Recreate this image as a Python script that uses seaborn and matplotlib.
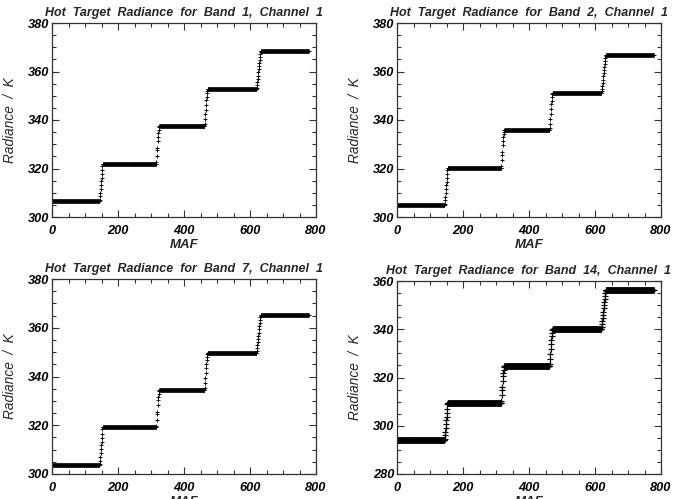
import numpy as np
import pandas as pd
import matplotlib
matplotlib.use("Agg")
import matplotlib.pyplot as plt
import seaborn as sns
from matplotlib.ticker import MultipleLocator

# ---- data ----
bands = [1, 2, 7, 14]
levels_band1 = [306.5, 322.0, 337.5, 352.6, 368.3]
levels_band2 = [304.8, 320.3, 335.7, 351.0, 366.7]
levels_band7 = [303.5, 319.1, 334.5, 349.7, 365.3]
levels_band14 = [294.0, 309.6, 324.7, 340.2, 356.1]
plateau_start = [0, 154, 325, 472, 633]
plateau_end = [143, 315, 462, 619, 778]
# fraction of the step reached at each MAF during the four transitions
ramp_frac_1 = [0.04, 0.13, 0.23, 0.33, 0.43, 0.53, 0.63, 0.73, 0.84, 0.95]
ramp_frac_2 = [0.05, 0.2, 0.35, 0.42, 0.6, 0.72, 0.82, 0.9, 0.97]
ramp_frac_3 = [0.06, 0.18, 0.32, 0.45, 0.58, 0.7, 0.8, 0.9, 0.97]
ramp_frac_4 = [0.05, 0.12, 0.2, 0.28, 0.36, 0.45, 0.53, 0.62, 0.7, 0.78, 0.86, 0.93, 0.98]
y_limits = {1: (300, 380), 2: (300, 380), 7: (300, 380), 14: (280, 360)}

all_levels = {1: levels_band1, 2: levels_band2, 7: levels_band7, 14: levels_band14}
ramps = [ramp_frac_1, ramp_frac_2, ramp_frac_3, ramp_frac_4]


def build_series(levels):
    maf, rad = [], []
    for i, lev in enumerate(levels):
        xs = np.arange(plateau_start[i], plateau_end[i] + 1)
        maf.extend(xs)
        rad.extend([lev] * len(xs))
        if i < len(levels) - 1:
            fr = ramps[i]
            xs_r = np.arange(plateau_end[i] + 1, plateau_end[i] + 1 + len(fr))
            maf.extend(xs_r)
            rad.extend([lev + f * (levels[i + 1] - lev) for f in fr])
    return pd.DataFrame({"MAF": maf, "Radiance": rad})


sns.set_theme(style="ticks")
plt.rcParams["font.family"] = ["Liberation Sans", "DejaVu Sans"]
plt.rcParams["font.style"] = "italic"

fig = plt.figure(figsize=(6.83, 4.99), dpi=100)
W, H = 683, 499
positions = [(52, 23, 316, 217), (397, 23, 661, 217),
             (52, 279, 316, 474), (397, 281, 661, 474)]

for band, (l, t, r, b) in zip(bands, positions):
    ax = fig.add_axes([l / W, 1 - b / H, (r - l) / W, (b - t) / H])
    df = build_series(all_levels[band])
    s = 11 if band != 14 else 20
    sns.scatterplot(data=df, x="MAF", y="Radiance", marker="+", color="black",
                    s=s, linewidth=0.65 if band != 14 else 0.85, ax=ax, legend=False)
    ax.set_xlim(0, 800)
    ax.set_ylim(*y_limits[band])
    ax.xaxis.set_major_locator(MultipleLocator(200))
    ax.xaxis.set_minor_locator(MultipleLocator(50))
    ax.yaxis.set_major_locator(MultipleLocator(20))
    ax.yaxis.set_minor_locator(MultipleLocator(5))
    ax.tick_params(which="both", direction="in", top=True, right=True,
                   colors="#333333", labelcolor="black", width=0.8)
    ax.tick_params(which="major", length=5, labelsize=9.2)
    ax.tick_params(axis="y", which="major", pad=2)
    ax.tick_params(axis="x", which="major", pad=6)
    ax.tick_params(which="minor", length=3)
    for lab in ax.get_xticklabels() + ax.get_yticklabels():
        lab.set_fontweight("bold")
        lab.set_fontstyle("italic")
    for sp in ax.spines.values():
        sp.set_color("#333333")
        sp.set_linewidth(0.9)
    ax.set_xlabel("MAF", fontsize=9.5, fontstyle="italic", fontweight="bold", labelpad=1)
    ax.set_ylabel("Radiance  /  K", fontsize=9.8, fontstyle="italic", labelpad=8)
    ax.set_title(f"Hot  Target  Radiance  for  Band  {band},  Channel  1",
                 fontsize=9.0, fontstyle="italic", fontweight="bold", pad=5)

fig.savefig("out.png", dpi=100)
